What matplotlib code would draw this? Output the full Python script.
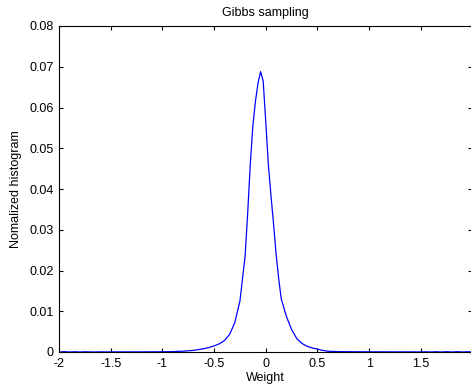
import matplotlib
matplotlib.use("Agg")
import matplotlib.pyplot as plt
import numpy as np

weight = [-2.0, -1.95, -1.9, -1.85, -1.8, -1.75, -1.7, -1.65, -1.6, -1.55, -1.5, -1.45, -1.4, -1.35,
          -1.3, -1.25, -1.2, -1.15, -1.1, -1.05, -1.0, -0.95, -0.9, -0.85, -0.8, -0.75, -0.7, -0.65,
          -0.6, -0.55, -0.5, -0.45, -0.4, -0.35, -0.3, -0.25, -0.2, -0.175, -0.15, -0.125, -0.1,
          -0.075, -0.05, -0.025, 0.0, 0.025, 0.05, 0.075, 0.1, 0.125, 0.15, 0.2, 0.25, 0.3, 0.35,
          0.4, 0.45, 0.5, 0.55, 0.6, 0.65, 0.7, 0.75, 0.8, 0.85, 0.9, 0.95, 1.0, 1.05, 1.1, 1.15,
          1.2, 1.25, 1.3, 1.35, 1.4, 1.45, 1.5, 1.55, 1.6, 1.65, 1.7, 1.75, 1.8, 1.85, 1.9, 1.95, 2.0]
hist = [0.0, 0.00008, 0.0, 0.00006, 0.0, 0.00005, 0.00002, 0.0, 0.00004, 0.00002, 0.00002, 0.00003,
        0.00002, 0.00002, 0.00003, 0.00003, 0.00003, 0.00004, 0.00004, 0.00005, 0.00006, 0.00007,
        0.0001, 0.00015, 0.0002, 0.0003, 0.0004, 0.0006, 0.0008, 0.0011, 0.0015, 0.0020, 0.0028,
        0.0043, 0.0072, 0.0125, 0.0235, 0.0340, 0.0460, 0.0555, 0.0615, 0.0660, 0.0688, 0.0665,
        0.0565, 0.0460, 0.0385, 0.0315, 0.0240, 0.0180, 0.0130, 0.0087, 0.0055, 0.0033, 0.0021,
        0.0014, 0.0010, 0.0007, 0.0004, 0.0002, 0.00012, 0.0001, 0.00008, 0.00007, 0.00006, 0.00006,
        0.00005, 0.00005, 0.00004, 0.00004, 0.00004, 0.00003, 0.00003, 0.00003, 0.00003, 0.00002,
        0.00002, 0.00002, 0.00004, 0.0, 0.00006, 0.0, 0.00007, 0.0, 0.00008, 0.0, 0.00006, 0.0]

xticks = [-2, -1.5, -1, -0.5, 0, 0.5, 1, 1.5]
xticklabels = ["-2", "-1.5", "-1", "-0.5", "0", "0.5", "1", "1.5"]
yticks = [0, 0.01, 0.02, 0.03, 0.04, 0.05, 0.06, 0.07, 0.08]
yticklabels = ["0", "0.01", "0.02", "0.03", "0.04", "0.05", "0.06", "0.07", "0.08"]

plt.rcParams['font.family'] = ['Liberation Sans', 'DejaVu Sans']
fig = plt.figure(figsize=(4.71, 3.85), dpi=100)
ax = fig.add_axes([59/471, 1-352/385, 412.5/471, 326/385])
ax.plot(weight, hist, color='#0000ff', linewidth=0.9)
ax.set_xlim(-2, 1.99)
ax.set_ylim(0, 0.08)
ax.set_xticks(xticks)
ax.set_xticklabels(xticklabels)
ax.set_yticks(yticks)
ax.set_yticklabels(yticklabels)
ax.tick_params(direction='in', length=3, width=0.8, labelsize=9, top=True, right=True)
ax.tick_params(axis='x', pad=4)
ax.tick_params(axis='y', pad=4)
for s in ax.spines.values():
    s.set_linewidth(0.8)
ax.set_title("Gibbs sampling", fontsize=9, pad=7)
ax.set_xlabel("Weight", fontsize=9, labelpad=2)
ax.set_ylabel("Nomalized histogram", fontsize=9, labelpad=5)
fig.savefig("out.png", dpi=100)
